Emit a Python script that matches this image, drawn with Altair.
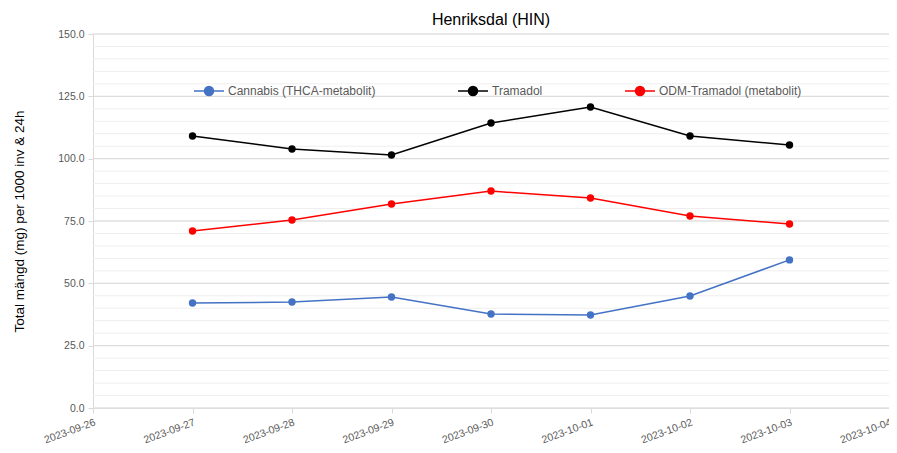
import altair as alt
import pandas as pd

dates = ["2023-09-27", "2023-09-28", "2023-09-29", "2023-09-30",
         "2023-10-01", "2023-10-02", "2023-10-03"]
series_names = ["Cannabis (THCA-metabolit)", "Tramadol", "ODM-Tramadol (metabolit)"]
cannabis = [42.1, 42.5, 44.5, 37.7, 37.3, 44.9, 59.4]
tramadol = [109.1, 103.9, 101.5, 114.3, 120.7, 109.1, 105.5]
odm = [71.0, 75.4, 81.8, 87.0, 84.2, 77.0, 73.8]
tick_dates = ["2023-09-26", "2023-09-27", "2023-09-28", "2023-09-29", "2023-09-30",
              "2023-10-01", "2023-10-02", "2023-10-03", "2023-10-04"]
y_ticks = [0, 25, 50, 75, 100, 125, 150]
minor_ticks = list(range(0, 151, 5))

point_colors = ["#4472C4", "#000000", "#FF0000"]

rows = []
for name, vals in zip(series_names, [cannabis, tramadol, odm]):
    for d, v in zip(dates, vals):
        rows.append({"date": d, "series": name, "value": v})
df = pd.DataFrame(rows)

font = "Liberation Sans"

x_enc = alt.X(
    "date:T",
    scale=alt.Scale(type="utc", domain=[tick_dates[0], tick_dates[-1]]),
    axis=alt.Axis(
        values=tick_dates, labelExpr="utcFormat(datum.value, '%Y-%m-%d')", title=None,
        labelAngle=340, labelAlign="right", labelBaseline="top",
        labelFontSize=10.5, labelColor="#595959", labelFont=font,
        grid=False, domainColor="#D9D9D9", tickColor="#D9D9D9", tickSize=5,
        labelPadding=4, labelOverlap=False, labelBound=False,
    ),
)

y_scale = alt.Scale(domain=[0, 150], nice=False)
y_axis = alt.Axis(
    values=y_ticks, format=".1f", title="Total mängd (mg) per 1000 inv & 24h",
    titleFont=font, titleFontSize=13.5, titleFontWeight="normal", titleColor="#000000",
    titlePadding=31,
    labelFontSize=10.5, labelColor="#595959", labelFont=font,
    grid=False, domain=True, domainColor="#D9D9D9", ticks=True, tickColor="#D9D9D9",
    tickSize=5, labelPadding=4,
)
y_enc = alt.Y("value:Q", scale=y_scale, axis=y_axis)

minor = alt.Chart(pd.DataFrame({"value": minor_ticks})).mark_rule(
    color="#EEEEEE", strokeWidth=1
).encode(y=y_enc)
major = alt.Chart(pd.DataFrame({"value": y_ticks})).mark_rule(
    color="#D9D9D9", strokeWidth=1
).encode(y=y_enc)

legend_symbol = ("M-1,0L-0.3,0M0.3,0L1,0M-0.3,0A0.3,0.3 0 1,0 0.3,0"
                 "A0.3,0.3 0 1,0 -0.3,0Z")

color_enc = alt.Color(
    "series:N", sort=series_names,
    scale=alt.Scale(domain=series_names, range=point_colors),
    legend=alt.Legend(
        title=None, orient="none", legendX=100, legendY=41,
        direction="horizontal", columns=3, gridAlign="none", columnPadding=79,
        symbolType=legend_symbol, symbolSize=900, symbolStrokeWidth=1.5,
        labelFont=font, labelFontSize=12, labelColor="#595959", labelOffset=3,
    ),
)

base = alt.Chart(df)
lines = base.mark_line(strokeWidth=1.5).encode(x=x_enc, y=y_enc, color=color_enc)
points = base.mark_point(filled=True, size=55, opacity=1).encode(
    x=x_enc, y=y_enc, color=color_enc)

chart = alt.layer(minor, major, lines, points).properties(
    width=796, height=374,
    autosize=alt.AutoSizeParams(type="none"),
    padding={"left": 85, "top": 26, "right": 0, "bottom": 43},
    title=alt.TitleParams("Henriksdal (HIN)", font=font, fontSize=16, fontWeight="normal",
                          color="#000000", anchor="middle", offset=1),
).configure_view(stroke=None)

chart.save("out.html", embed_options={"renderer": "svg", "actions": False})
